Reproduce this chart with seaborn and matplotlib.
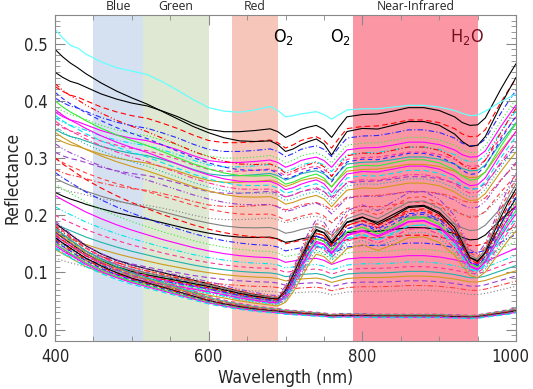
"""
Reflectance spectra with spectral band shading (Blue / Green / Red / NIR)
"""
import matplotlib
matplotlib.use("Agg")
import matplotlib.pyplot as plt
from matplotlib.ticker import MultipleLocator
import seaborn as sns
import numpy as np

# wavelength grid (nm) shared by all spectra
wavelength = [400, 410, 420, 430, 440, 460, 480, 500, 520, 540, 560, 580, 600, 620,
              640, 660, 680, 690, 700, 710, 720, 730, 740, 750, 760, 770, 780, 800,
              820, 840, 860, 880, 900, 920, 930, 940, 950, 960, 970, 980, 990, 1000]

# brightest spectrum (cyan, top)
top_spectrum = [0.525, 0.510, 0.497, 0.492, 0.482, 0.468, 0.458, 0.452, 0.446, 0.433,
                0.418, 0.402, 0.388, 0.382, 0.380, 0.384, 0.390, 0.383, 0.372, 0.374,
                0.377, 0.379, 0.381, 0.376, 0.368, 0.376, 0.384, 0.386, 0.386, 0.389,
                0.392, 0.392, 0.389, 0.383, 0.378, 0.374, 0.375, 0.382, 0.390, 0.398,
                0.405, 0.412]

# shape of the bright / flat spectra (value 0.45 at 400 nm)
bright_shape = [0.450, 0.441, 0.434, 0.430, 0.424, 0.412, 0.403, 0.396, 0.391, 0.382,
                0.372, 0.360, 0.350, 0.346, 0.346, 0.348, 0.351, 0.346, 0.336, 0.342,
                0.350, 0.354, 0.357, 0.350, 0.336, 0.355, 0.372, 0.376, 0.377, 0.382,
                0.388, 0.388, 0.383, 0.372, 0.362, 0.357, 0.358, 0.370, 0.395, 0.420,
                0.443, 0.465]

# shape of the bright spectra that fall off more (value 0.45 at 400 nm)
bright2_shape = [0.450, 0.438, 0.428, 0.420, 0.411, 0.396, 0.383, 0.372, 0.362, 0.350,
                 0.338, 0.326, 0.316, 0.308, 0.303, 0.302, 0.303, 0.297, 0.286, 0.290,
                 0.297, 0.302, 0.306, 0.298, 0.280, 0.300, 0.318, 0.323, 0.322, 0.328,
                 0.334, 0.334, 0.328, 0.314, 0.302, 0.294, 0.296, 0.310, 0.335, 0.360,
                 0.383, 0.405]

# shapes of the vegetated spectra (value 0.17 at 400 nm)
veg_shape = [0.170, 0.161, 0.152, 0.143, 0.134, 0.121, 0.111, 0.103, 0.097, 0.091,
             0.085, 0.079, 0.073, 0.067, 0.061, 0.056, 0.052, 0.050, 0.058, 0.080,
             0.108, 0.138, 0.160, 0.155, 0.140, 0.155, 0.172, 0.180, 0.168, 0.180,
             0.195, 0.197, 0.185, 0.158, 0.135, 0.115, 0.110, 0.122, 0.145, 0.168,
             0.190, 0.210]
veg2_shape = [0.170, 0.160, 0.150, 0.141, 0.132, 0.119, 0.109, 0.101, 0.095, 0.090,
              0.085, 0.080, 0.075, 0.069, 0.063, 0.058, 0.054, 0.053, 0.068, 0.095,
              0.125, 0.152, 0.172, 0.168, 0.150, 0.168, 0.186, 0.195, 0.186, 0.200,
              0.214, 0.216, 0.204, 0.178, 0.152, 0.125, 0.118, 0.135, 0.165, 0.195,
              0.222, 0.245]

# shape of the intermediate flat spectra (value 0.20 at 400 nm)
mid_shape = [0.200, 0.193, 0.187, 0.181, 0.175, 0.165, 0.156, 0.148, 0.141, 0.134,
             0.128, 0.122, 0.117, 0.113, 0.110, 0.108, 0.107, 0.105, 0.100, 0.102,
             0.104, 0.105, 0.106, 0.103, 0.097, 0.101, 0.105, 0.107, 0.107, 0.108,
             0.110, 0.110, 0.108, 0.104, 0.101, 0.098, 0.098, 0.101, 0.106, 0.111,
             0.116, 0.121]

# shape of the dark water spectra (value 0.165 at 400 nm)
water_shape = [0.165, 0.155, 0.146, 0.137, 0.128, 0.114, 0.102, 0.092, 0.084, 0.076,
               0.068, 0.060, 0.052, 0.046, 0.041, 0.037, 0.034, 0.033, 0.031, 0.030,
               0.029, 0.028, 0.027, 0.026, 0.024, 0.025, 0.025, 0.025, 0.024, 0.024,
               0.024, 0.024, 0.024, 0.023, 0.023, 0.022, 0.023, 0.025, 0.027, 0.029,
               0.031, 0.034]

# reflectance at 400 nm of every spectrum, per group
bright_levels = [0.450, 0.425, 0.405, 0.390, 0.380, 0.370, 0.360, 0.350, 0.335, 0.310,
                 0.280, 0.250]
bright2_levels = [0.490, 0.430, 0.415, 0.400, 0.385, 0.375, 0.365, 0.355, 0.345, 0.325,
                  0.300, 0.265, 0.240]
mid_levels = [0.300, 0.275, 0.255, 0.235, 0.215, 0.200, 0.185, 0.170, 0.155, 0.140,
              0.125]
veg_levels = [0.186, 0.180, 0.174, 0.169, 0.164, 0.158, 0.153, 0.147, 0.140]
veg2_levels = [0.190, 0.183, 0.177, 0.171, 0.166, 0.161, 0.156, 0.150, 0.144]
water_levels = [0.185, 0.178, 0.173, 0.170, 0.167, 0.164, 0.161, 0.158, 0.155, 0.151,
                0.147, 0.142]

# spectral bands (nm)
band_names = ["Blue", "Green", "Red", "Near-Infrared"]
band_start = [450, 515, 630, 788]
band_end = [515, 600, 690, 950]
band_colors = ["#d5e1f1", "#dee8d2", "#f7c6bb", "#fb97a5"]

# absorption features
absorb_labels = [r"O$_2$", r"O$_2$", r"H$_2$O"]
absorb_wl = [697, 771, 936]
absorb_colors = ["black", "black", "#741022"]

x_ticks = [400, 600, 800, 1000]
y_ticks = [0.0, 0.1, 0.2, 0.3, 0.4, 0.5]

line_colors = ["black", "red", "#2a2aff", "#33ee33", "#ff00ff", "#00e5ee", "#ff3399",
               "#20b2aa", "#cd9b1d", "#9a3dd0", "#ff4040", "#808080"]
line_styles = ["-", (0, (5, 3)), (0, (5, 2, 1, 2)), (0, (1, 2)), "-",
               (0, (5, 2, 1, 2, 1, 2)), (0, (4, 3)), "-"]

sns.set_style("ticks")
plt.rcParams['font.family'] = ['Liberation Sans Narrow', 'DejaVu Sans']
plt.rcParams['font.stretch'] = 'condensed'
plt.rcParams['mathtext.default'] = 'regular'

fig = plt.figure(figsize=(5.33, 3.89), dpi=100)
ax = fig.add_axes([0.1032, 0.1234, 0.8650, 0.8380])

# band shading
for name, x0, x1, c in zip(band_names, band_start, band_end, band_colors):
    ax.axvspan(x0, x1, color=c, lw=0, zorder=0)
    ax.text((x0 + x1) / 2, 1.005, name, transform=ax.get_xaxis_transform(),
            ha='center', va='bottom', fontsize=8.8, fontstretch='normal',
            family=['Open Sans', 'DejaVu Sans'])

wl = np.array(wavelength)
groups = [(bright_shape, bright_levels), (bright2_shape, bright2_levels),
          (mid_shape, mid_levels), (veg_shape, veg_levels),
          (veg2_shape, veg2_levels), (water_shape, water_levels)]
k = 0
for shape, levels in groups:
    shape = np.array(shape)
    for lev in levels:
        vals = shape * (lev / shape[0])
        sns.lineplot(x=wl, y=vals, ax=ax, color=line_colors[k % len(line_colors)],
                     linestyle=line_styles[k % len(line_styles)], lw=0.8,
                     estimator=None, zorder=2)
        k += 1

sns.lineplot(x=wl, y=top_spectrum, ax=ax, color="#66ffff", lw=0.9, estimator=None, zorder=2)

for lab, x, c in zip(absorb_labels, absorb_wl, absorb_colors):
    ax.text(x, 0.512, lab, ha='center', va='center', fontsize=13, color=c)

ax.set_xlim(400, 1000)
ax.set_ylim(-0.02, 0.55)
ax.xaxis.set_minor_locator(MultipleLocator(50))
ax.yaxis.set_minor_locator(MultipleLocator(0.01))
ax.set_xticks(x_ticks)
# the last label is placed by hand so it stays inside the figure
ax.set_xticklabels([str(v) for v in x_ticks[:-1]] + [""])
ax.annotate(str(x_ticks[-1]), xy=(x_ticks[-1], 0), xycoords=('data', 'axes fraction'),
            xytext=(-4, -5), textcoords='offset points', ha='center', va='top',
            fontsize=12)
ax.set_yticks(y_ticks)
ax.set_yticklabels([f"{v:.1f}" for v in y_ticks])
ax.tick_params(which='both', direction='in', top=True, right=True, color='#888888',
               labelsize=12, pad=5)
ax.tick_params(which='major', length=7, width=0.8)
ax.tick_params(which='minor', length=3.5, width=0.6)
for s in ax.spines.values():
    s.set_color('#888888')
    s.set_linewidth(0.8)

ax.set_xlabel("Wavelength (nm)", fontsize=12.5, labelpad=2)
ax.set_ylabel("Reflectance", fontsize=12.5, labelpad=2)

fig.savefig("out.png", dpi=100)
plt.close(fig)
